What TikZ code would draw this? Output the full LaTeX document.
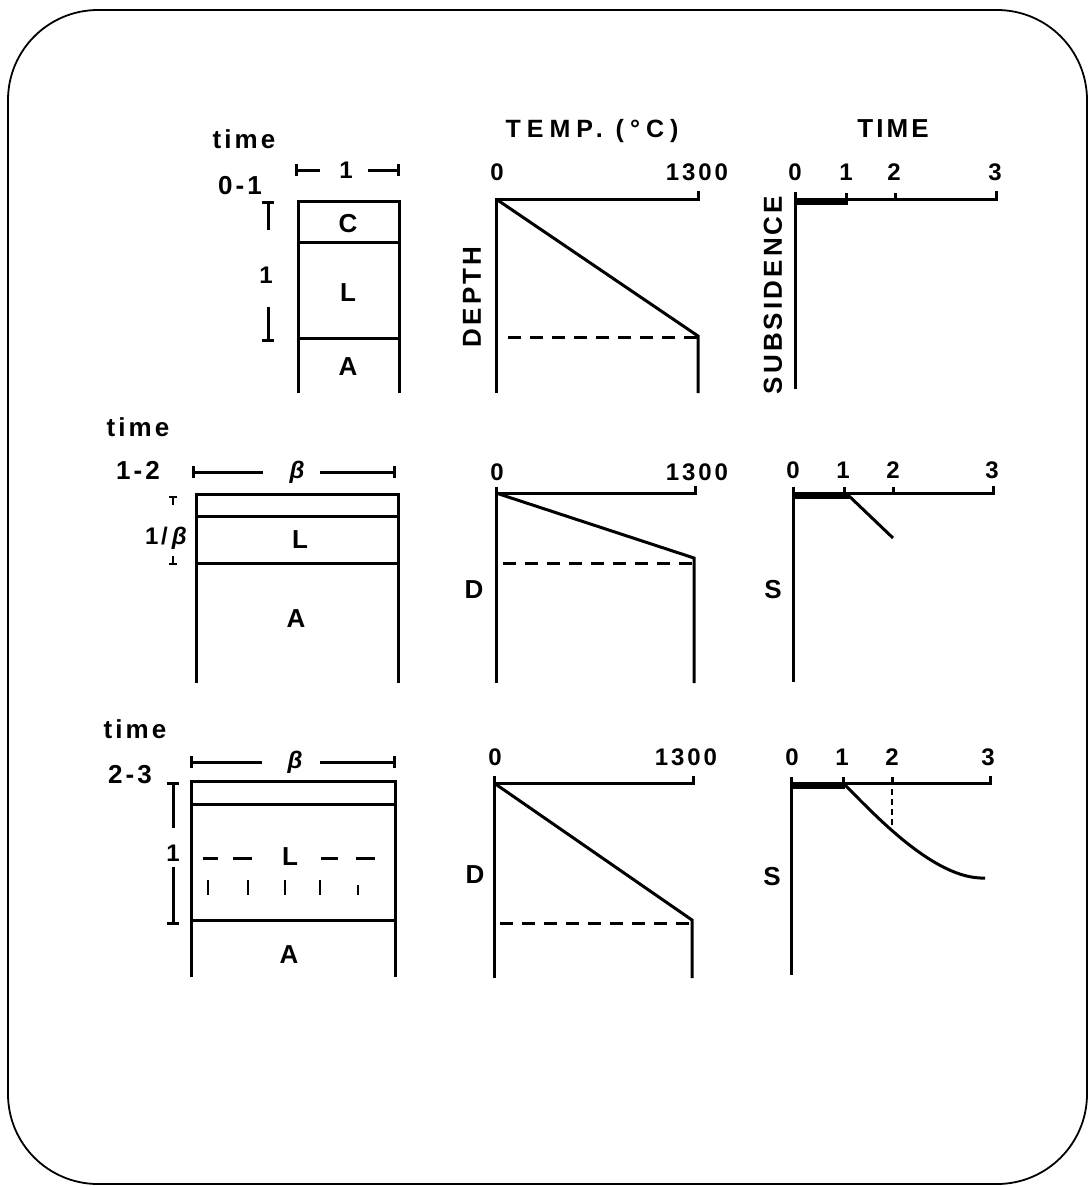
\documentclass[tikz,border=0pt]{standalone}
\usepackage{fontspec}
\setmainfont{Liberation Sans}
\newfontfamily\labfont[LetterSpace=12]{Liberation Sans Bold}
\newfontfamily\headfont[LetterSpace=24]{Liberation Sans Bold}
\begin{document}
\begin{tikzpicture}[x=1pt,y=-1pt,
  ln/.style={line width=3pt},
  heavy/.style={line width=7pt},
  dsh/.style={line width=3pt, dash pattern=on 13pt off 9pt},
  txt/.style={font=\labfont\fontsize{26}{28}\selectfont, inner sep=0pt},
  num/.style={font=\labfont\fontsize{24}{26}\selectfont, inner sep=0pt, anchor=base},
  hd/.style={font=\headfont\fontsize{25}{28}\selectfont, inner sep=0pt, anchor=base},
  bt/.style={txt, anchor=base},
  bb/.style={font=\bfseries\itshape\fontsize{24}{26}\selectfont, inner sep=0pt}
  ]
\useasboundingbox (0,0) rectangle (1089,1186);
\draw[line width=1.8pt, rounded corners=90pt] (8,10) rectangle (1087,1184);

% ---------- headings
\node[hd] (hTemp) at (592,137) {TEMP. (°C)};
\node[bt] (hTime) at (893,137) {TIME};

% ================= ROW 1
\node[bt] (r1ta) at (244,148) {time};
\node[bt] (r1tb) at (240,194) {0-1};
% width dimension
\draw[ln] (296,164) -- (296,176) (296,170) -- (320,170);
\draw[ln] (368,170) -- (398,170) (398,164) -- (398,176);
\node[num, anchor=center] (r1w) at (346,170) {1};
% box
\draw[ln] (298,393) -- (298,201) -- (399,201) -- (399,393);
\draw[ln] (298,242) -- (399,242);
\draw[ln] (298,338) -- (399,338);
\node[txt] (r1C) at (348,224) {C};
\node[txt] (r1L) at (348,293) {L};
\node[txt] (r1A) at (348,367) {A};
% left dimension
\draw[ln] (262,202) -- (274,202) (268,202) -- (268,230);
\draw[ln] (268,307) -- (268,340) (262,340) -- (274,340);
\node[num, anchor=center] (r1h) at (266,275) {1};

% temperature plot 1
\node[num] (r1z) at (497,180) {0};
\node[num] (r1m) at (697,180) {1300};
\draw[ln] (496,393) -- (496,199) -- (698,199) -- (698,191);
\draw[ln] (496,199) -- (698,336) -- (698,393);
\draw[dsh] (508,337) -- (698,337);
\node[txt, rotate=90] (r1D) at (472,297) {DEPTH};

% subsidence plot 1
\node[num] (r1n0) at (795,180) {0};
\node[num] (r1n1) at (846,180) {1};
\node[num] (r1n2) at (894,180) {2};
\node[num] (r1n3) at (995,180) {3};
\draw[ln] (795,389) -- (795,192) (795,199) -- (996,199) -- (996,191);
\draw[ln] (846,199) -- (846,193) (895,199) -- (895,193);
\draw[heavy] (795,201) -- (848,201);
\node[txt, rotate=90] (r1S) at (773,295) {SUBSIDENCE};

% ================= ROW 2
\node[bt] (r2ta) at (138,436) {time};
\node[bt] (r2tb) at (138,479) {1-2};
\draw[ln] (193,466) -- (193,478) (193,472) -- (263,472);
\draw[ln] (320,472) -- (394,472) (394,466) -- (394,478);
\node[bb] (r2w) at (297,472) {β};
\draw[ln] (196,683) -- (196,494) -- (398,494) -- (398,683);
\draw[ln] (196,516) -- (398,516);
\draw[ln] (196,563) -- (398,563);
\node[txt] (r2L) at (300,540) {L};
\node[txt] (r2A) at (296,619) {A};
\draw[line width=2.2pt] (169,497) -- (177,497) (173,497) -- (173,505);
\draw[line width=2.2pt] (173,556) -- (173,564) (169,564) -- (177,564);
\node[num, anchor=east] (r2h) at (187,538) {1/\,\fontsize{24}{26}\bfseries\itshape β};

\node[num] (r2z) at (497,480) {0};
\node[num] (r2m) at (697,480) {1300};
\draw[ln] (496,683) -- (496,487) (496,493) -- (695,493) -- (695,486);
\draw[ln] (496,493) -- (694,558) -- (694,683);
\draw[dsh] (503,563) -- (694,563);
\node[txt] (r2D) at (474,590) {D};

\node[num] (r2n0) at (793,478) {0};
\node[num] (r2n1) at (843,478) {1};
\node[num] (r2n2) at (893,478) {2};
\node[num] (r2n3) at (992,478) {3};
\draw[ln] (793,682) -- (793,487) (793,493) -- (993,493) -- (993,486);
\draw[ln] (844,493) -- (844,487) (893,493) -- (893,487);
\draw[heavy] (793,495) -- (850,495);
\draw[ln] (848,495) -- (893,538);
\node[txt] (r2S) at (773,590) {S};

% ================= ROW 3
\node[bt] (r3ta) at (135,738) {time};
\node[bt] (r3tb) at (130,783) {2-3};
\draw[ln] (191,756) -- (191,768) (191,762) -- (262,762);
\draw[ln] (320,762) -- (394,762) (394,756) -- (394,768);
\node[bb] (r3w) at (295,762) {β};
\draw[ln] (191,977) -- (191,781) -- (395,781) -- (395,977);
\draw[ln] (191,804) -- (395,804);
\draw[ln] (191,920) -- (395,920);
\node[txt] (r3L) at (290,857) {L};
\node[txt] (r3A) at (289,955) {A};
\draw[line width=3pt] (203,858) -- (218,858) (233,858) -- (252,858) (321,858) -- (338,858) (356,858) -- (375,858);
\draw[line width=2.6pt] (208,880) -- (208,895) (248,880) -- (248,895) (285,880) -- (285,895) (320,880) -- (320,895) (358,885) -- (358,895);
\draw[ln] (167,783) -- (179,783) (173,783) -- (173,828);
\draw[ln] (173,867) -- (173,923) (167,923) -- (179,923);
\node[num, anchor=center] (r3h) at (173,853) {1};

\node[num] (r3z) at (495,765) {0};
\node[num] (r3m) at (686,765) {1300};
\draw[ln] (494,978) -- (494,776) (494,783) -- (693,783) -- (693,776);
\draw[ln] (494,783) -- (692,920) -- (692,978);
\draw[dsh] (500,923) -- (690,923);
\node[txt] (r3D) at (475,875) {D};

\node[num] (r3n0) at (792,765) {0};
\node[num] (r3n1) at (842,765) {1};
\node[num] (r3n2) at (892,765) {2};
\node[num] (r3n3) at (988,765) {3};
\draw[ln] (791,975) -- (791,777) (791,783) -- (990,783) -- (990,776);
\draw[ln] (843,783) -- (843,777) (892,783) -- (892,777);
\draw[heavy] (791,785) -- (845,785);
\draw[ln] (845,785) .. controls (875,815) and (935,880) .. (985,878);
\draw[line width=2.6pt, dash pattern=on 6pt off 4pt] (892,789) -- (892,826);
\node[txt] (r3S) at (772,877) {S};
\end{tikzpicture}
\end{document}
